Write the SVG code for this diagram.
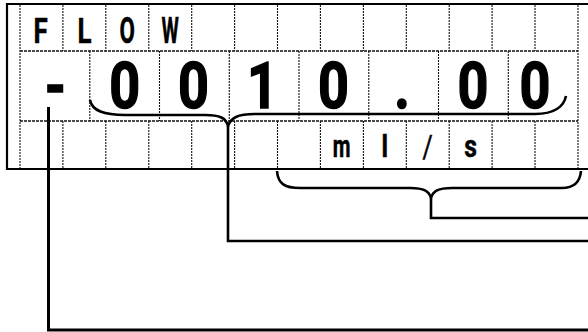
<svg xmlns="http://www.w3.org/2000/svg" width="588" height="332" viewBox="0 0 588 332">
<style>
.frame{fill:none;stroke:#000;stroke-width:2.2}
.grid{fill:none;stroke:#111;stroke-width:1.1;stroke-dasharray:2 1}
.hrow{fill:none;stroke:#111;stroke-width:1.4;stroke-dasharray:3 1}
.con{fill:none;stroke:#000;stroke-width:2.6;stroke-linejoin:miter}
</style>
<rect width="588" height="332" fill="#fff"/>
<g id="display">
  <path class="frame" d="M588,4 H7 V169 H588"/>
  <path class="hrow" d="M20,51 H578 M20,121 H578"/>
  <path class="grid" d="M20,5 V168 M578,5 V168
    M62.9,5 V51 M105.8,5 V51 M148.8,5 V51 M191.7,5 V51 M234.6,5 V51 M277.5,5 V51 M320.4,5 V51 M363.4,5 V51 M406.3,5 V51 M449.2,5 V51 M492.1,5 V51 M535,5 V51
    M89.8,51 V121 M159.5,51 V121 M229.3,51 V121 M299,51 V121 M368.8,51 V121 M438.5,51 V121 M508.3,51 V121
    M62.9,121 V168 M105.8,121 V168 M148.8,121 V168 M191.7,121 V168 M234.6,121 V168 M277.5,121 V168 M320.4,121 V168 M363.4,121 V168 M406.3,121 V168 M449.2,121 V168 M492.1,121 V168 M535,121 V168"/>
</g>
<g font-family="Roboto, 'Liberation Sans', Arial, sans-serif" font-weight="bold" text-anchor="middle" fill="#000" stroke="#000">
<g id="row-title" font-size="36" stroke-width="0.5">
  <text transform="translate(40.5,43) scale(0.72,1)">F</text>
  <text transform="translate(84.4,43) scale(0.72,1)">L</text>
  <text transform="translate(127.3,43) scale(0.62,1)">O</text>
  <text transform="translate(170.2,43) scale(0.55,1)">W</text>
</g>
<g id="row-value" font-size="65" stroke-width="1.4">
  <text transform="translate(55.5,108) scale(0.83,1)">-</text>
  <text transform="translate(124.6,108) scale(0.83,1)">0</text>
  <text transform="translate(193.5,108) scale(0.83,1)">0</text>
  <text transform="translate(262.5,108) scale(0.83,1)">1</text>
  <text transform="translate(333.5,108) scale(0.83,1)">0</text>
  <text transform="translate(402,108) scale(0.83,1)">.</text>
  <text transform="translate(473,108) scale(0.83,1)">0</text>
  <text transform="translate(535,108) scale(0.83,1)">0</text>
</g>
<g id="row-unit" font-size="31" stroke-width="0.5">
  <text transform="translate(341.5,157) scale(0.66,1)">m</text>
  <text transform="translate(384.8,157) scale(0.8,1)">l</text>
  <text transform="translate(427.7,157) scale(0.8,1)" font-weight="normal">/</text>
  <text transform="translate(470.6,157) scale(0.8,1)">s</text>
</g>
</g>
<g id="connectors">
  <path class="con" d="M90,100 C92,111 104,115 125,115 L205,115 C220,115 226,118 228,126 C231,118 237,114 255,114 L535,114 C555,114 564,106 566,96"/>
  <path class="con" d="M228,126 V241 H588"/>
  <path class="con" d="M277,171 C278,184 285,188 300,188 L410,188 C424,188 429,191 431,198 C433,191 438,188 452,188 L562,188 C574,188 580,182 581,171"/>
  <path class="con" d="M431,198 V218 H588"/>
  <path class="con" style="stroke-width:3" d="M48.5,107 V330 H588"/>
</g>
</svg>
